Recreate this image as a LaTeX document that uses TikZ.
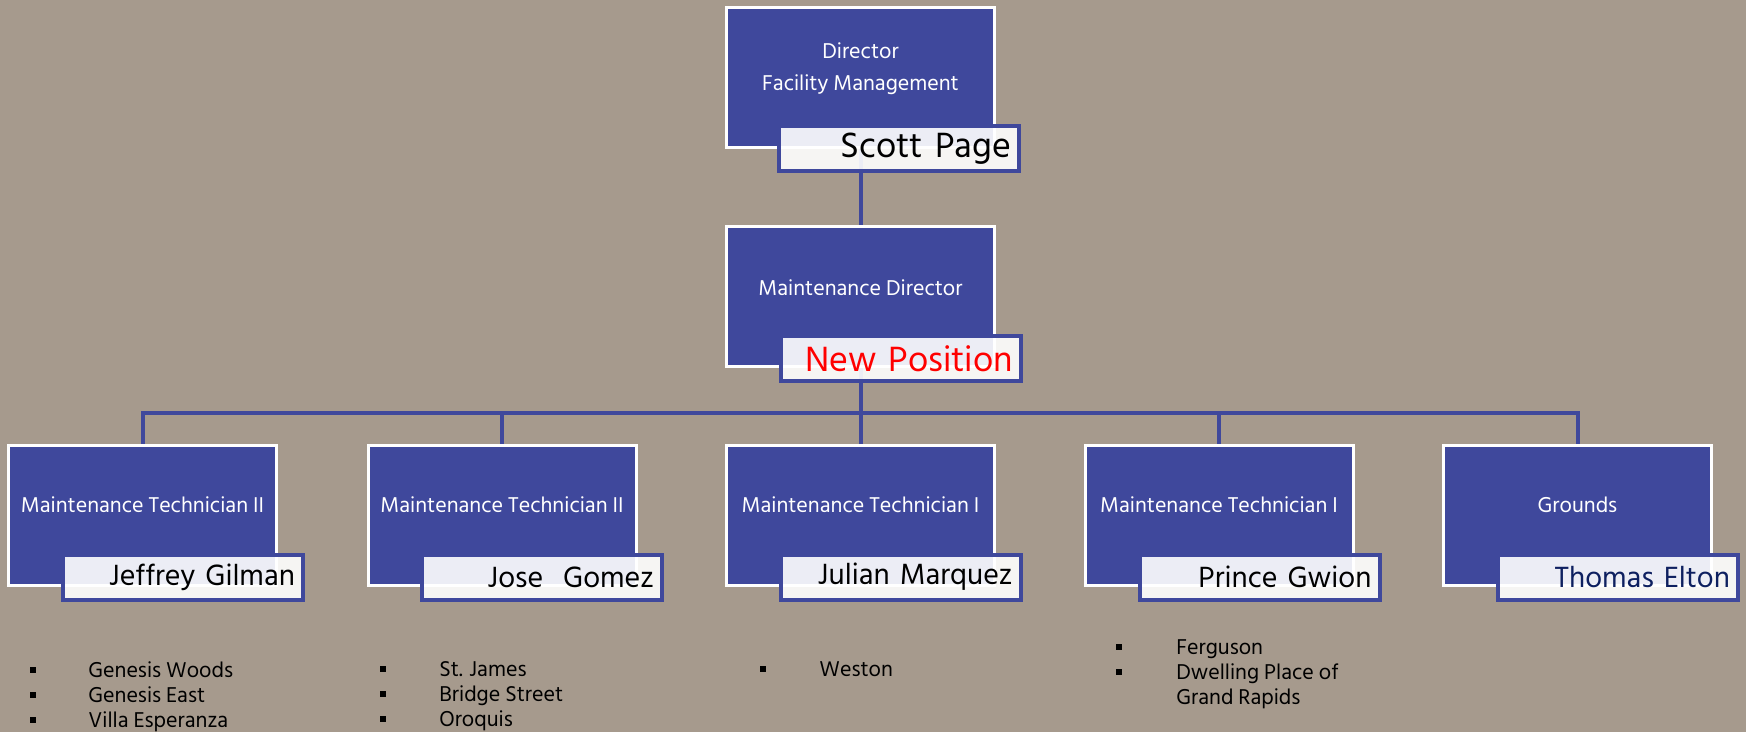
\documentclass[tikz,border=0pt]{standalone}
\usepackage{fontspec}
\setmainfont{Hind Siliguri}

\definecolor{backdrop}{RGB}{166,154,141}
\definecolor{roleblue}{RGB}{63,72,156}
\definecolor{navy}{RGB}{14,32,96}

\tikzset{
    role/.style={rectangle, draw=white, line width=1.5pt, fill=roleblue,
        minimum width=134pt, minimum height=70pt, inner sep=0pt},
    roletext/.style={text=white, align=center, inner sep=0pt,
        font=\fontsize{11}{16}\selectfont},
    person/.style={rectangle, draw=roleblue, line width=2pt, fill=white,
        fill opacity=0.9, text opacity=1, text=black, minimum height=22.5pt,
        text width=112pt, inner xsep=4pt, inner ysep=0pt, align=right,
        font=\fontsize{18}{20}\selectfont},
    staff/.style={person, font=\fontsize{15}{17}\selectfont},
    link/.style={draw=roleblue, line width=2pt},
    site/.style={anchor=base west, inner sep=0pt, text=black,
        font=\fontsize{11}{12.5}\selectfont},
}

\begin{document}
\begin{tikzpicture}[x=0.5pt,y=-0.5pt]
    \fill [backdrop] (0,0) rectangle (1746,732);

    % role boxes
    \node (director) [role] at (860.5,78) {};
    \node (maint) [role] at (860.5,297) {};
    \node (tecA) [role] at (142.5,515.5) {};
    \node (tecB) [role] at (502,515.5) {};
    \node (tecC) [role] at (860.5,515.5) {};
    \node (tecD) [role] at (1219,515.5) {};
    \node (grounds) [role] at (1577.5,515.5) {};

    \node (directorT) [roletext] at (860.5,69) {Director\\Facility Management};
    \node (maintT) [roletext] at (860.5,288) {Maintenance Director};
    \node (tecAT) [roletext] at (142.5,505) {Maintenance Technician II};
    \node (tecBT) [roletext] at (502,505) {Maintenance Technician II};
    \node (tecCT) [roletext] at (860.5,505) {Maintenance Technician I};
    \node (tecDT) [roletext] at (1219,505) {Maintenance Technician I};
    \node (groundsT) [roletext] at (1577.5,505) {Grounds};

    % connectors
    \coordinate (bar) at (860.5,413.5);
    \draw [link] (director.south) -- (maint.north);
    \draw [link] (maint.south) -- (bar);
    \foreach \n in {tecA,tecB,tecC,tecD,grounds}
        \draw [link] (bar) -| (\n.north);

    % people
    \node (scott) [person] at (899,148.5) {Scott Page};
    \node (newpos) [person, text=red] at (901,358.5) {New Position};
    \node (jeffrey) [staff] at (183,577) {Jeffrey Gilman};
    \node (jose) [staff] at (542,577) {Jose\ \ Gomez};
    \node (julian) [staff] at (900.5,577) {Julian Marquez};
    \node (prince) [staff] at (1259.5,577) {Prince Gwion};
    \node (thomas) [staff, text=navy] at (1618,577) {Thomas Elton};

    % sites
    \foreach \y/\s [count=\i] in {677/Genesis Woods,702/Genesis East,727/Villa Esperanza} {
        \fill (30,\y-10) rectangle ++(6,6);
        \node (siteA\i) [site] at (88,\y) {\s};
    }
    \foreach \y/\s [count=\i] in {676/St. James,701/Bridge Street,726/Oroquis} {
        \fill (380,\y-10) rectangle ++(6,6);
        \node (siteB\i) [site] at (439,\y) {\s};
    }
    \fill (760,666) rectangle ++(6,6);
    \node (siteC1) [site] at (819,676) {Weston};
    \foreach \y/\s [count=\i] in {654/Ferguson,679/Dwelling Place of} {
        \fill (1116,\y-10) rectangle ++(6,6);
        \node (siteD\i) [site] at (1176,\y) {\s};
    }
    \node (siteD3) [site] at (1176,704) {Grand Rapids};
\end{tikzpicture}
\end{document}
